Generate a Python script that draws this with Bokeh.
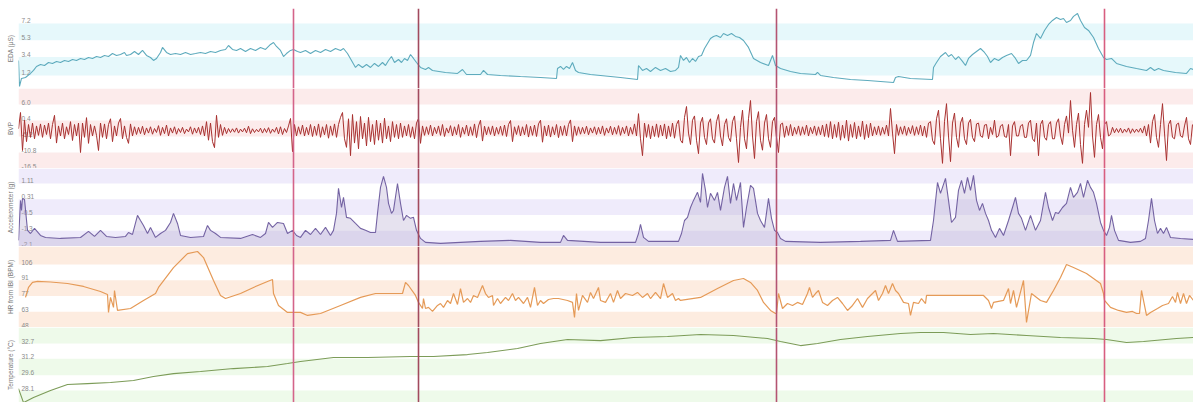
from bokeh.plotting import figure
from bokeh.layouts import column
from bokeh.models import Range1d, Span, BoxAnnotation, FixedTicker
from bokeh.core.properties import value
from bokeh.embed import file_html
from bokeh.resources import INLINE

# ---------------- data ----------------
X_END = 1175  # visible time span (minutes)
EVENTS = [275, 400, 758, 1086]

EDA_TICKS = [1.3, 3.4, 5.3, 7.2]
EDA_LABELS = ["1.2", "3.4", "5.3", "7.2"]
EDA_RANGE = (-0.18, 8.9)
EDA = [(0,3.00),(1,0.05),(3,0.96),(7,1.07),(12,1.53),(15,1.87),(18,2.32),(22,2.55),(26,2.43),(30,2.77),(34,2.66),(38,2.89),(42,2.77),(46,3.00),(50,2.89),(54,3.11),(58,3.00),(62,3.23),(66,3.11),(70,3.34),(74,3.23),(78,3.45),(82,3.34),(86,3.57),(90,3.45),(94,3.79),(98,3.57),(102,3.68),(106,3.91),(108,3.57),(112,3.68),(116,4.02),(120,3.68),(124,4.14),(128,3.57),(132,3.34),(135,3.00),(138,3.23),(142,3.91),(144,4.48),(148,3.91),(152,3.68),(157,3.79),(162,3.68),(167,3.91),(172,3.68),(177,3.79),(182,3.91),(187,3.79),(192,4.02),(197,3.91),(202,4.14),(207,4.25),(210,4.70),(214,4.25),(218,4.14),(222,4.36),(227,4.02),(232,4.36),(237,4.14),(242,4.48),(247,4.25),(252,4.82),(255,5.04),(258,4.59),(262,4.14),(265,3.45),(268,3.79),(272,4.14),(275,4.25),(279,4.02),(282,3.91),(287,4.14),(292,3.79),(297,4.14),(302,3.91),(307,4.25),(312,4.02),(317,4.36),(322,4.14),(325,4.36),(329,3.79),(333,3.00),(337,2.21),(340,2.55),(344,2.21),(348,2.55),(352,2.21),(356,2.66),(360,2.32),(364,2.77),(367,2.43),(370,3.00),(373,3.45),(376,2.77),(380,3.11),(383,2.77),(386,3.23),(389,3.00),(392,3.68),(395,3.23),(398,2.77),(402,2.21),(407,1.98),(410,2.21),(414,1.87),(427,1.64),(439,1.53),(444,1.98),(448,1.41),(462,1.41),(465,1.87),(469,1.41),(482,1.30),(502,1.18),(522,1.07),(538,0.96),(539,2.09),(542,2.32),(545,1.98),(548,2.32),(551,2.09),(554,2.77),(557,1.87),(560,1.64),(572,1.41),(582,1.30),(602,1.07),(619,0.84),(620,2.43),(624,1.87),(628,2.09),(632,1.75),(637,2.21),(642,1.87),(647,2.09),(652,1.75),(657,1.87),(660,2.21),(662,3.57),(665,3.00),(668,3.34),(671,2.77),(674,3.23),(677,2.89),(680,3.45),(683,3.57),(686,4.36),(689,4.93),(692,5.50),(695,5.73),(698,5.84),(702,5.61),(705,6.06),(709,5.84),(713,6.06),(717,5.73),(721,5.61),(725,5.27),(730,4.48),(735,3.23),(742,2.77),(750,2.43),(754,3.57),(757,2.43),(762,2.09),(772,1.75),(782,1.53),(797,1.41),(799,1.64),(802,1.30),(815,1.07),(832,0.84),(849,0.73),(875,0.50),(877,1.07),(880,1.18),(892,0.96),(914,0.84),(915,2.21),(918,2.77),(922,3.45),(927,3.91),(930,3.45),(933,3.68),(937,3.11),(940,3.45),(944,2.89),(947,2.43),(950,3.23),(954,3.68),(958,4.02),(962,4.36),(966,3.91),(969,3.45),(972,2.77),(976,3.23),(980,3.00),(984,3.34),(988,3.57),(993,3.79),(997,3.23),(1000,2.66),(1004,3.00),(1008,3.00),(1012,3.57),(1015,5.04),(1018,6.06),(1022,5.50),(1026,6.41),(1030,7.09),(1034,7.54),(1038,7.88),(1042,7.65),(1045,7.77),(1048,7.31),(1052,7.54),(1055,8.00),(1059,8.33),(1062,7.54),(1066,6.75),(1070,6.41),(1075,5.61),(1080,4.36),(1085,3.34),(1088,3.11),(1093,3.23),(1098,2.66),(1108,2.32),(1118,2.09),(1128,1.87),(1132,2.21),(1136,1.87),(1140,2.09),(1145,1.87),(1157,1.64),(1168,1.53),(1172,2.09),(1175,1.98)]

BVP_TICKS = [-16.4, -10.8, -5.2, 0.4, 6.0]
BVP_LABELS = ["-16.5", "-10.8", "-5.2", "0.4", "6.0"]
BVP_RANGE = (-16.4, 11.6)
BVP_STEP = 2
BVP = [
 -2.5, 3.2, -10.1, 0.5, -7.0, -1.0, -5.5, -0.5, -6.0, -1.5, -4.8, -0.8, -5.5, -1.2, -4.5, -0.5, -6.0, -1.0, 2.2, -7.5, -1.5, -5.0, -0.5, -6.0, -1.8, -4.5, 0.0, -6.6, -1.0, -5.0, -0.5, -10.8, -0.5, -5.5, 1.4, -7.6, -1.0, -5.0, -1.5, -4.8,
 -10.1, -0.5, -5.5, -0.8, -6.0, -1.0, 1.0, -7.0, -1.5, -5.0, -0.5, 1.1, -6.0, -1.5, -5.5, -7.6, -0.8, -5.0, -1.8, -4.5, -2.0, -4.2, -1.6, -4.6, -2.2, -4.0, -1.8, -4.4, -2.4, -3.8, -1.4, -4.8, -2.0, -4.2, -1.2, -5.0, -2.2, -4.0, -1.8, -4.4,
 -2.4, -3.8, -2.0, -4.2, -2.6, -3.6, -1.8, -4.4, -2.2, -4.0, -2.0, -4.5, -1.5, -5.0, 0.0, -6.5, -0.5, -7.0, -9.1, 2.2, -5.5, -1.0, -4.8, -2.0, -4.2, -2.4, -3.8, -2.5, -3.7, -2.2, -4.0, -2.6, -3.6, -2.3, -3.9, -1.6, -4.2, -2.5, -3.8, -2.7,
 -3.6, -2.3, -4.0, -2.4, -3.8, -2.1, -4.1, -2.6, -3.7, -2.0, -4.3, -1.8, -4.5, -2.4, -3.8, -1.5, 1.1, -10.5, -1.0, -5.0, -1.8, -4.4, -1.2, -5.0, -2.0, -4.6, -1.0, -5.2, -1.6, -4.8, -0.8, -5.5, -1.8, -4.6, -1.0, -5.8, -1.5, -4.8, -0.8, -5.5,
 -1.0, 1.5, 3.2, -6.0, -9.0, 1.0, -11.9, 2.5, -7.5, 0.0, -9.5, 1.8, -6.0, -0.5, -8.5, 1.5, -7.0, -1.0, -8.0, 0.5, -6.5, -0.5, -7.5, 1.2, -6.0, -1.5, -7.0, 0.0, -5.5, -1.0, -6.0, -0.5, -5.5, -1.5, -5.0, -1.0, -5.5, -1.8, -6.0, -0.5,
 1.1, -7.6, -1.5, -4.8, -1.8, -4.5, -1.2, -5.0, -2.0, -4.2, -1.5, -4.8, -1.0, -5.2, -2.2, -4.0, -1.4, -5.0, -1.8, -4.6, -1.0, -5.5, -2.0, -4.4, -1.2, -5.0, -1.8, -4.8, -0.8, -5.6, -1.5, 0.5, -6.8, -1.6, -4.6, -1.8, -4.5, -1.5, -5.0, -2.0,
 -4.4, -1.6, -4.8, -1.2, -5.2, -1.0, 0.4, -7.0, -1.8, -4.5, -1.4, -5.0, -1.8, -4.6, -1.0, -5.4, -1.6, -4.8, -1.2, -5.2, -0.8, 0.5, -7.2, -1.5, -5.0, -1.2, -5.4, -1.8, -4.6, -1.0, -5.6, -1.6, -4.8, -1.4, -5.0, -1.0, 0.6, -7.0, -1.5, -4.8,
 -1.8, -4.4, -2.0, -4.2, -1.6, -4.6, -2.2, -4.0, -1.8, -4.5, -2.0, -4.3, -1.5, -4.8, -2.2, -4.0, -1.6, -4.6, -2.0, -4.4, -1.4, -4.8, -2.0, -4.2, -1.5, -5.0, -2.0, -4.4, -0.8, -5.0, 2.8, -6.0, -11.9, -0.5, -5.5, -1.0, -6.0, -1.5, -5.2, -0.8,
 -5.5, -1.2, -5.0, -0.8, -6.0, -1.5, -5.2, -0.5, -5.8, -1.0, 0.5, -6.5, -7.5, 1.5, 5.3, -4.0, -8.0, 0.5, 2.0, -6.5, -11.2, -0.5, 1.5, -5.5, -8.0, -0.5, 1.0, -6.0, -7.5, 0.0, 2.5, -5.0, -8.5, -1.0, 1.0, -5.5, -7.0, 0.0, 2.0, -6.0,
 -14.3, -2.0, 4.0, -6.0, -9.5, 1.0, 7.4, -5.0, -12.9, 0.0, 3.5, -6.5, -10.0, -0.5, 2.5, -6.0, -9.0, 0.0, 1.5, -5.5, -10.8, -1.0, -0.5, -5.5, -1.5, -4.8, -1.0, -5.0, -2.0, -4.4, -1.5, -4.8, -1.8, -4.5, -1.2, -5.0, -2.0, -4.2, -1.5, -4.8,
 -1.8, -4.6, -1.2, -5.2, -0.8, -5.5, 0.0, -6.0, -1.0, -5.5, -0.2, -6.5, -1.2, -5.8, 0.5, -6.8, -1.0, -5.5, -0.3, -6.0, -1.5, -5.2, 0.2, -6.2, -1.0, -5.6, -0.5, -5.0, -1.8, -4.6, -1.5, -4.8, -2.0, -4.4, -1.2, -5.0, 4.6, -4.0, -11.2, -1.0,
 -4.8, -1.8, -4.4, -1.5, -4.8, -2.0, -4.2, -1.4, -4.8, -1.8, -4.5, -1.2, -5.0, -1.6, -5.5, -0.5, 0.0, -6.5, -8.0, 1.0, 4.0, -6.0, -14.6, 0.0, 6.3, -5.0, -14.0, -0.5, 3.0, -5.5, -9.0, -0.5, 1.5, -6.0, -8.0, -0.5, 0.8, -5.5, -7.0, -0.8,
 -0.5, -5.0, -5.5, -1.2, -1.0, -6.0, -2.0, -4.5, 0.5, -5.5, -5.0, -1.5, -1.0, -5.2, -5.5, -1.0, -11.9, -1.5, 0.0, -5.0, -5.0, -1.5, -1.0, -5.5, -5.5, -0.5, 0.5, -6.0, -7.0, -0.5, -11.9, -1.0, 0.5, -5.5, -6.5, -1.0, 0.0, -6.0, -6.0, -0.5,
 1.0, -5.0, -8.0, -1.0, 2.0, -4.0, 7.4, -3.0, -9.0, -1.0, 3.0, -8.0, -14.6, -1.0, 4.0, -2.0, 10.2, -5.0, -12.5, -1.0, 2.5, -5.5, -9.5, -1.0, 0.0, -5.0, -4.5, -2.0, -3.9, -2.4, -3.8, -2.3, -4.0, -2.6, -3.7, -2.2, -4.1, -2.5, -3.8, -2.6,
 -3.7, -2.3, -4.0, -1.5, -5.0, -1.0, -7.5, 0.0, 2.5, -5.5, -9.0, -1.0, 6.3, -4.0, -13.6, -1.0, 0.5, -5.5, -6.0, -1.0, -0.5, -5.0, -5.5, -1.5, 1.5, -6.0, -8.0, -1.0]

ACC_TICKS = [-2.09, -1.29, -0.49, 0.31, 1.11]
ACC_LABELS = ["-2.1", "-1.3", "-0.5", "0.31", "1.11"]
ACC_RANGE = (-2.09, 1.87)
ACC = [(0,-1.78),(2,0.25),(3,-0.26),(4,0.35),(6,0.30),(9,-1.27),(12,-1.43),(16,-1.17),(22,-1.53),(27,-1.63),(42,-1.68),(62,-1.63),(70,-1.32),(76,-1.58),(82,-1.27),(88,-1.58),(97,-1.63),(107,-1.58),(110,-1.38),(114,-1.48),(119,-0.51),(122,-0.77),(125,-1.02),(129,-1.43),(132,-1.12),(137,-1.63),(142,-1.43),(147,-1.27),(152,-0.87),(155,-0.41),(159,-0.92),(162,-1.53),(172,-1.63),(185,-1.58),(189,-1.02),(192,-1.27),(197,-1.43),(202,-1.63),(222,-1.68),(234,-1.48),(242,-1.63),(247,-1.43),(250,-0.87),(254,-1.12),(259,-0.87),(265,-0.92),(269,-1.43),(274,-1.27),(278,-1.53),(282,-1.63),(287,-1.27),(292,-1.48),(297,-1.17),(302,-1.48),(307,-1.12),(312,-1.53),(315,-1.27),(318,-0.41),(320,0.86),(323,-0.11),(325,0.40),(328,-0.61),(332,-0.66),(337,-0.92),(342,-1.17),(347,-1.27),(352,-1.38),(357,-1.38),(359,-0.41),(362,0.91),(365,1.47),(368,0.91),(370,0.10),(373,-0.41),(375,-0.26),(379,1.11),(382,0.10),(385,-0.77),(388,-0.51),(392,-0.66),(395,-0.61),(398,-1.27),(402,-1.68),(407,-1.88),(422,-1.93),(462,-1.83),(492,-1.78),(522,-1.88),(542,-1.88),(545,-1.53),(549,-1.78),(582,-1.88),(617,-1.88),(620,-1.43),(622,-0.97),(625,-1.63),(630,-1.83),(660,-1.83),(663,-1.43),(666,-0.77),(669,-0.61),(672,-0.11),(675,0.25),(679,0.66),(682,0.15),(684,1.62),(687,0.76),(689,-0.11),(692,0.61),(696,0.25),(699,0.66),(702,-0.26),(706,0.91),(709,1.47),(712,0.10),(715,1.11),(718,0.25),(722,1.16),(725,-1.12),(728,-0.11),(732,1.01),(735,0.86),(739,-0.41),(742,-0.77),(746,-1.12),(750,0.35),(753,-0.66),(756,-1.27),(759,-1.38),(762,-1.68),(767,-1.83),(802,-1.88),(842,-1.83),(872,-1.78),(875,-1.27),(879,-1.83),(912,-1.78),(915,-0.77),(919,1.16),(922,0.61),(927,1.37),(930,0.25),(933,-0.87),(937,-0.61),(940,0.76),(943,1.27),(946,0.61),(949,1.42),(952,0.76),(955,1.52),(958,0.25),(961,-0.26),(964,0.10),(967,-0.41),(970,-0.77),(973,-1.27),(977,-1.63),(981,-1.17),(985,-1.53),(990,-0.77),(994,-0.11),(997,0.40),(1000,-0.41),(1003,-0.66),(1007,-1.27),(1012,-0.51),(1017,-1.27),(1022,-0.77),(1027,0.66),(1030,-0.11),(1034,-0.77),(1037,-0.36),(1040,-0.41),(1044,-0.11),(1048,0.10),(1052,0.91),(1055,0.40),(1059,0.66),(1062,1.11),(1065,0.40),(1069,1.27),(1072,0.91),(1075,0.66),(1078,0.10),(1082,-0.87),(1085,-1.27),(1088,-1.53),(1091,-1.12),(1093,-0.51),(1096,-1.27),(1100,-1.78),(1112,-1.88),(1122,-1.83),(1127,-1.68),(1130,-0.77),(1133,0.35),(1136,-0.77),(1139,-1.43),(1142,-1.17),(1145,-1.43),(1148,-1.12),(1152,-1.63),(1162,-1.68),(1175,-1.73)]

HR_TICKS = [48, 62.5, 77, 91.5, 106]
HR_LABELS = ["48", "63", "77", "91", "106"]
HR_RANGE = (48, 122.6)
HR = [(7,75.7),(10,84.9),(14,89.5),(19,90.4),(32,89.9),(49,88.5),(65,85.8),(82,81.2),(89,78.4),(90,61.9),(92,75.7),(95,66.5),(96,82.1),(99,63.7),(112,65.5),(125,72.9),(137,79.3),(140,84.9),(155,103.2),(169,116.1),(179,118.0),(185,112.4),(195,91.3),(202,77.5),(207,74.7),(222,79.3),(235,84.9),(249,90.4),(254,92.2),(255,79.3),(260,68.3),(269,61.9),(282,61.9),(289,59.1),(302,60.9),(322,68.3),(342,75.7),(357,79.3),(382,79.3),(384,79.3),(387,89.5),(390,86.7),(397,77.5),(400,71.1),(404,65.5),(405,74.7),(407,65.5),(410,66.5),(414,62.8),(419,68.3),(422,70.1),(425,66.5),(429,72.9),(432,70.1),(435,79.3),(439,69.2),(442,83.9),(445,71.1),(449,74.7),(452,71.1),(455,77.5),(459,75.7),(464,86.7),(467,79.3),(470,75.7),(474,77.5),(475,68.3),(479,74.7),(482,70.1),(487,75.7),(490,72.9),(494,79.3),(497,72.9),(500,75.7),(505,70.1),(509,75.7),(512,66.5),(516,84.9),(519,68.3),(522,72.9),(525,70.1),(530,73.8),(535,74.7),(540,74.7),(549,72.9),(554,71.1),(556,57.3),(558,79.3),(560,63.7),(564,77.5),(569,71.1),(572,80.3),(575,74.7),(580,84.9),(582,72.9),(587,71.1),(592,79.3),(595,71.1),(599,82.1),(602,74.7),(607,79.3),(614,77.5),(619,80.3),(624,75.7),(629,79.3),(632,74.7),(637,80.3),(642,74.7),(645,88.5),(649,75.7),(654,79.3),(657,72.9),(660,74.7),(662,72.9),(682,75.7),(699,83.9),(715,91.3),(725,93.1),(732,89.5),(739,82.1),(745,71.1),(752,63.7),(757,60.9),(758,60.9),(760,79.3),(764,65.5),(769,70.1),(774,68.3),(779,71.1),(784,69.2),(789,79.3),(791,84.9),(794,75.7),(797,79.3),(800,82.1),(804,71.1),(809,68.3),(814,72.9),(819,75.7),(824,70.1),(829,63.7),(834,68.3),(839,74.7),(844,66.5),(849,74.7),(854,79.3),(857,82.1),(860,72.9),(864,79.3),(867,86.7),(870,79.3),(874,88.5),(877,82.1),(880,79.3),(885,71.1),(890,70.1),(892,59.1),(895,71.1),(900,70.1),(903,74.7),(907,70.1),(908,77.5),(965,77.5),(970,72.9),(973,65.5),(975,71.1),(985,72.9),(990,83.9),(992,70.1),(995,82.1),(998,66.5),(1005,91.3),(1008,52.7),(1013,79.3),(1022,72.9),(1028,71.1),(1035,82.1),(1042,94.1),(1048,106.0),(1055,103.2),(1068,97.7),(1082,88.5),(1085,79.3),(1086,72.9),(1092,66.5),(1100,63.7),(1108,61.9),(1114,62.8),(1118,60.9),(1121,60.9),(1123,82.1),(1125,72.9),(1128,59.1),(1132,61.9),(1139,65.5),(1144,68.3),(1150,70.1),(1154,76.6),(1157,71.1),(1159,80.3),(1162,70.1),(1165,79.3),(1168,70.1),(1171,77.5),(1175,72.9)]

TEMP_TICKS = [28.1, 29.6, 31.2, 32.7]
TEMP_LABELS = ["28.1", "29.6", "31.2", "32.7"]
TEMP_RANGE = (26.93, 34.27)
TEMP = [(0,28.29),(5,26.92),(15,27.41),(32,28.10),(49,28.69),(69,28.78),(92,28.88),(115,29.08),(135,29.47),(155,29.76),(182,29.96),(215,30.25),(249,30.45),(269,30.74),(282,30.94),(315,31.33),(349,31.33),(392,31.43),(415,31.43),(449,31.62),(469,31.82),(499,32.21),(522,32.70),(549,33.09),(582,32.99),(615,33.29),(649,33.39),(682,33.58),(715,33.48),(749,33.19),(762,32.90),(782,32.50),(799,32.70),(822,33.09),(849,33.39),(882,33.68),(902,33.78),(925,33.78),(952,33.58),(975,33.68),(1008,33.48),(1042,33.29),(1075,33.19),(1088,33.09),(1108,32.80),(1125,32.90),(1158,33.19),(1175,33.29)]

# ---------------- styling ----------------
W = 1193
LEFT = 18
FONT = "Liberation Sans"
TXT = "#8a8a8a"
EVENT_COLORS = ["#d4648a", "#a24a5e", "#b45472", "#d85e80"]


def panel(height, yr, ticks, labels, band_color, band_phase, title, top=0):
    p = figure(width=W, height=height, output_backend="svg", toolbar_location=None,
               x_range=Range1d(0, X_END), y_range=Range1d(*yr),
               x_axis_location=None, min_border_left=LEFT, min_border_right=0,
               min_border_top=top, min_border_bottom=0)
    p.outline_line_color = None
    p.grid.visible = False
    ax = p.yaxis[0]
    ax.ticker = FixedTicker(ticks=[])
    ax.axis_line_color = None
    ax.major_tick_line_color = None
    ax.minor_tick_line_color = None
    ax.major_label_text_font_size = "0px"
    ax.major_label_standoff = 0
    ax.major_tick_out = 0
    ax.axis_label = title
    ax.axis_label_standoff = 5
    ax.axis_label_text_font_size = "6.5px"
    ax.axis_label_text_font_style = "normal"
    ax.axis_label_text_color = "#777777"
    ax.axis_label_text_font = FONT
    # alternating bands between the ticks
    edges = sorted(set([yr[0], yr[1]] + list(ticks)), reverse=True)
    for i in range(len(edges) - 1):
        if i % 2 == band_phase:
            p.add_layout(BoxAnnotation(top=edges[i], bottom=edges[i + 1],
                                       fill_color=band_color, fill_alpha=1.0,
                                       line_color=None, level="underlay"))
    # tick labels drawn inside the plot area
    p.text(x=[0] * len(ticks), y=ticks, text=labels, x_offset=3,
           text_baseline="bottom", text_align="left", text_font_size="6.5px",
           text_color=TXT, text_font=value(FONT))
    return p


def add_events(p):
    for loc, col in zip(EVENTS, EVENT_COLORS):
        p.add_layout(Span(location=loc, dimension="height", line_color=col,
                          line_width=1.6))


p1 = panel(88, EDA_RANGE, EDA_TICKS, EDA_LABELS, "#e6f8fb", 1, "EDA (μS)", top=8)
p1.line([a for a, b in EDA], [b for a, b in EDA], line_color="#5eabbd", line_width=1.1)
add_events(p1)

p2 = panel(80, BVP_RANGE, BVP_TICKS, BVP_LABELS, "#fcebeb", 0, "BVP")
p2.line([i * BVP_STEP for i in range(len(BVP))], BVP, line_color="#a8302f", line_width=1.0)
add_events(p2)

p3 = panel(78, ACC_RANGE, ACC_TICKS, ACC_LABELS, "#efebfb", 0, "Accelerometer (g)")
ax_t = [a for a, b in ACC]
ax_v = [b for a, b in ACC]
p3.varea(x=ax_t, y1=[ACC_RANGE[0]] * len(ax_t), y2=ax_v, fill_color="#b6acd0", fill_alpha=0.35)
p3.line(ax_t, ax_v, line_color="#7463a3", line_width=1.1)
add_events(p3)

p4 = panel(81, HR_RANGE, HR_TICKS, HR_LABELS, "#fdece0", 0, "HR from IBI (BPM)")
p4.line([a for a, b in HR], [b for a, b in HR], line_color="#e59a57", line_width=1.2)
add_events(p4)

p5 = panel(75, TEMP_RANGE, TEMP_TICKS, TEMP_LABELS, "#eefaea", 0, "Temperature (°C)")
p5.line([a for a, b in TEMP], [b for a, b in TEMP], line_color="#7c9c58", line_width=1.1)
add_events(p5)

layout = column(p1, p2, p3, p4, p5, spacing=0)
open("out.html", "w").write(file_html(layout, INLINE))
